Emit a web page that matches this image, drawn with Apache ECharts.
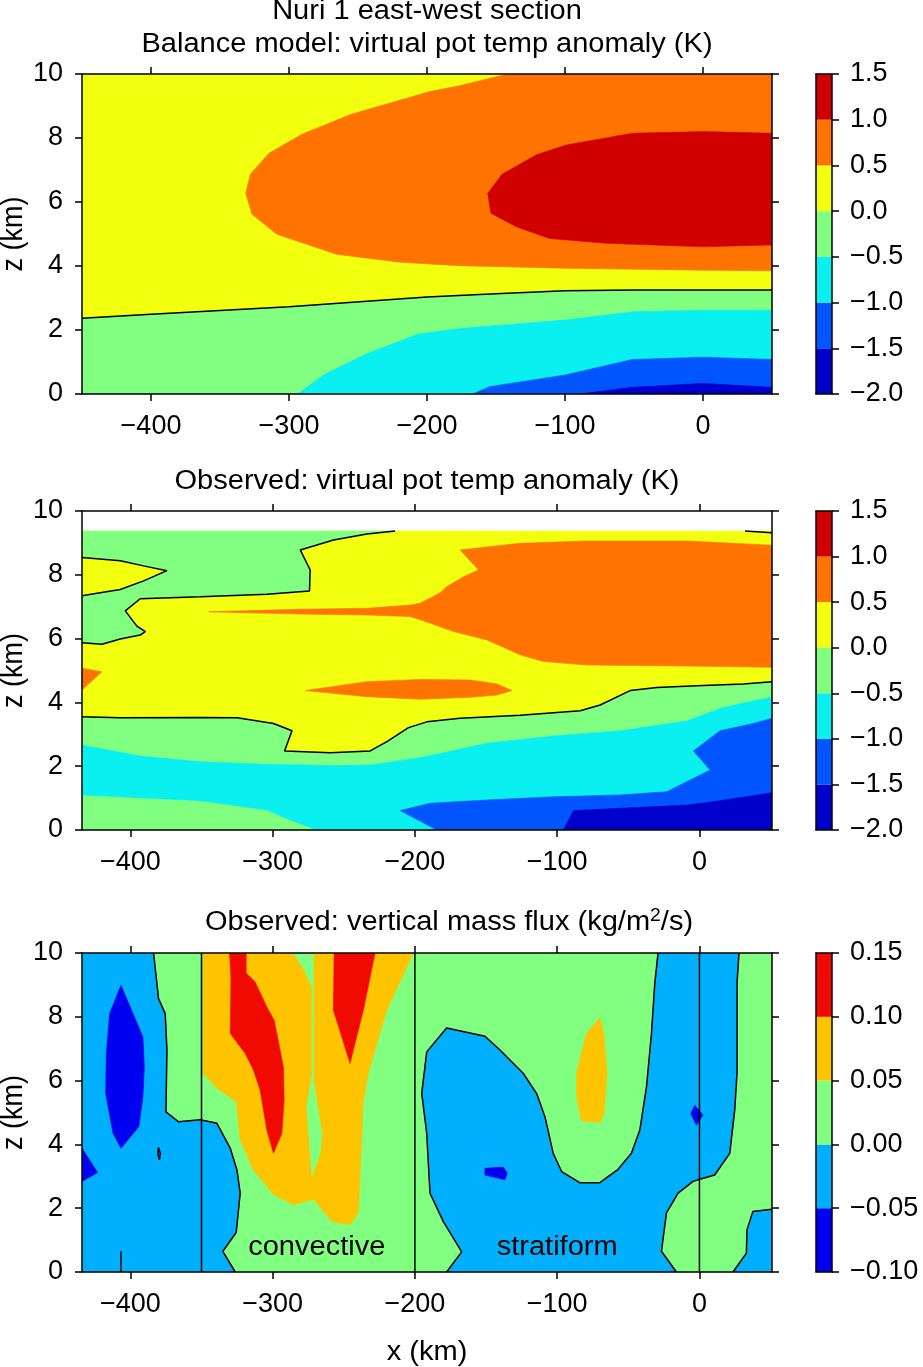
<!DOCTYPE html>
<html>
<head>
<meta charset="utf-8">
<script src="https://cdn.jsdelivr.net/npm/echarts@6/dist/echarts.min.js"></script>
<style>
html,body{margin:0;padding:0;background:#fff;}
#chart{width:923px;height:1367px;}
</style>
</head>
<body>
<div id="chart"></div>
<script>
// ---------------- DATA (x km, z km) ----------------
// Panel 1: balance model, contour boundaries of virtual pot temp anomaly (K)
const balXRange = [-450, 50];
const bal_zero = [[-450,2.37],[-400,2.49],[-300,2.73],[-200,3.03],[-150,3.13],[-100,3.23],[-50,3.25],[0,3.25],[50,3.25]];
const bal_p05 = [[-141.7,10],[-176.5,9.63],[-198,9.45],[-255,8.74],[-291,8.11],[-314.5,7.52],[-328,6.87],[-331.4,6.27],[-326.8,5.62],[-308.8,4.99],[-265.8,4.37],[-219.9,4.12],[-176.5,4.01],[-100,3.93],[0,3.87],[50,3.85],[50,10]];
const bal_p10 = [[50,8.15],[0,8.2],[-51,8.15],[-99.3,7.78],[-121,7.47],[-145.6,6.87],[-156,6.27],[-153.7,5.65],[-135.4,5.23],[-111.3,4.86],[-70.2,4.71],[0,4.60],[50,4.66]];
const bal_m05 = [[-293.8,0],[-274.4,0.61],[-244.6,1.24],[-206.9,1.87],[-176.5,2.05],[-100,2.31],[-51,2.57],[0,2.62],[50,2.62]];
const bal_m10 = [[-166.8,0],[-154.7,0.23],[-100,0.59],[-51,1.08],[0,1.15],[50,1.08]];
const bal_m15 = [[-89.6,0],[-51,0.21],[0,0.33],[50,0.21]];

// Panel 2: observed virtual pot temp anomaly (K)
const obsXRange = [-434, 51];
const obsTop = 9.37;
const obs_zero_low = [[-434,3.55],[-407,3.52],[-351,3.53],[-325,3.52],[-299.4,3.34],[-286.4,3.11],[-291.6,2.48],[-259.5,2.42],[-231.4,2.48],[-219.7,2.77],[-204.5,3.21],[-191.6,3.39],[-168.2,3.5],[-126,3.6],[-83.8,3.74],[-69.8,3.92],[-48.7,4.37],[-29.9,4.47],[-1.8,4.52],[31,4.58],[51,4.65]];
const obs_zero_A = [[-213.9,9.37],[-233.7,9.28],[-257.2,9.09],[-280.6,8.78],[-273.6,8.15],[-274.1,7.49],[-304,7.39],[-350.9,7.31],[-393.1,7.25],[-403.6,6.87],[-395.4,6.39],[-389.5,6.22],[-393.1,6.11],[-407.1,5.99],[-420,5.82],[-434,5.87]];
const obs_zero_B = [[-434,8.54],[-407.1,8.44],[-390.7,8.28],[-374.3,8.13],[-390.7,7.81],[-407.1,7.54],[-421.2,7.44],[-434,7.34]];
const obs_zero_C = [[32,9.37],[51,9.32]];
const obs_p05_main = [[-344.9,6.84],[-280.6,6.92],[-233.7,6.95],[-203.3,7.05],[-196.3,7.11],[-182.2,7.44],[-177.5,7.63],[-165.8,7.94],[-155.3,8.15],[-168.2,8.78],[-126,8.99],[-79.1,9.06],[-8.9,9.06],[51,8.93],[51,5.10],[-8.9,5.14],[-79.1,5.17],[-109.6,5.28],[-126,5.49],[-149.4,5.96],[-172.9,6.22],[-182.2,6.37],[-191.6,6.52],[-203.3,6.69],[-233.7,6.74],[-280.6,6.77]];
const obs_p05_mid = [[-277.1,4.37],[-233.7,4.65],[-196.3,4.72],[-161.1,4.70],[-142.4,4.58],[-131.8,4.37],[-142.4,4.23],[-161.1,4.16],[-196.3,4.10],[-233.7,4.18]];
const obs_p05_left = [[-434,5.07],[-420,4.96],[-434,4.39]];
const obs_m05_up = [[-434,2.66],[-393,2.32],[-351,2.14],[-304,2.06],[-257.2,2.02],[-231.4,2.04],[-198.6,2.25],[-182.2,2.4],[-149.4,2.72],[-102.6,2.95],[-55.7,3.11],[-8.9,3.42],[14.5,3.81],[37.9,4.05],[51,4.16]];
const obs_m05_low = [[-434,1.10],[-397.8,1.02],[-351,0.92],[-304,0.63],[-287.6,0.31],[-268.9,0]];
const obs_m10 = [[-184.5,0],[-210.3,0.61],[-189.2,0.84],[-149.4,0.94],[-102.6,1.04],[-55.7,1.10],[-22.9,1.20],[7.5,1.88],[-4.2,2.48],[14.5,3.11],[37.9,3.34],[51,3.50]];
const obs_m15 = [[-95.6,0],[-88.5,0.61],[-55.7,0.68],[-8.9,0.78],[14.5,0.92],[51,1.17]];

// Panel 3: observed vertical mass flux (kg/m2/s)
const fluxXRange = [-434, 51];
const flux_neg_A = [[-383.7,10],[-380.2,8.57],[-375.5,8.10],[-374.3,6.96],[-375,5.02],[-366.2,4.71],[-350.9,4.77],[-339.2,4.66],[-329.8,3.88],[-325.1,3.20],[-322.8,2.47],[-325.6,1.24],[-335,0.65],[-326.3,0]];
const flux_neg_B = [[-177.7,0],[-167.1,0.63],[-180,1.58],[-189.4,2.47],[-191.7,4.35],[-195.2,5.60],[-191.7,6.90],[-177.7,7.65],[-150.8,7.39],[-140.2,6.96],[-123.9,6.23],[-114.5,5.60],[-108.6,4.87],[-102.8,3.72],[-96.9,3.15],[-84.1,2.80],[-70,2.80],[-57.2,3.22],[-47.8,3.72],[-41.9,4.45],[-37.2,5.81],[-33.7,7.48],[-31.4,9.04],[-29.1,10]];
const flux_neg_C = [[27.8,10],[26.4,9.04],[26.4,6.23],[24.8,5.08],[21.3,3.72],[10.7,3.04],[0.2,2.91],[-4.5,2.84],[-15,2.47],[-23.2,1.85],[-26.7,0.65],[-16.2,0]];
const flux_neg_D = [[23.6,0],[33,0.59],[33.4,1.32],[37.6,1.90],[51,1.97]];
const flux_neg_spot = [[-380.3,3.9],[-378.9,3.72],[-379.6,3.52],[-380.6,3.7],[-380.3,3.9]];
const flux_zero_stub = [[-406.6,0],[-406.6,0.65]];
const flux_m05_A = [[-406.6,8.99],[-395.4,7.81],[-391.2,7.37],[-390.2,6.43],[-391.2,5.49],[-394,4.56],[-406.6,3.88],[-412.2,4.35],[-417.4,5.60],[-416.9,6.85],[-414.6,8.10]];
const flux_m05_B = [[-434,3.88],[-423,3.12],[-434,2.84]];
const flux_m05_C = [[-150.8,3.25],[-137.9,3.29],[-135.1,3.10],[-136.7,2.89],[-150.8,3.04]];
const flux_m05_D = [[-3.3,5.23],[2.5,4.92],[-2.1,4.60],[-6.1,4.97]];
const flux_p05_A = [[-349,10],[-349,6.23],[-339.2,5.76],[-325.6,5.34],[-322.8,4.14],[-313.5,3.20],[-299.4,2.42],[-285.4,2.11],[-271.3,2.28],[-258.4,1.58],[-245.6,1.48],[-239.7,1.85],[-238.5,3.10],[-236.2,5.39],[-232.7,6.23],[-219.8,8.21],[-201.1,10]];
const flux_gap = [[-285.4,10],[-277.2,9.41],[-272.3,8.94],[-272.3,6.2],[-276,5.18],[-272.4,2.99],[-266.6,3.72],[-265.4,4.35],[-271.3,6.02],[-271.3,10]];
const flux_p05_B = [[-70,7.98],[-67.2,7.48],[-64.9,6.23],[-67.2,4.92],[-70,4.69],[-82.9,4.74],[-86.4,5.49],[-86.4,6.23],[-79.4,7.48]];
const flux_p10_A = [[-330.3,10],[-318.6,10],[-318.6,9.37],[-312.3,9.09],[-304.1,8.31],[-298.9,7.89],[-292.4,6.43],[-291.9,5.39],[-293.5,4.35],[-299.4,3.72],[-304.1,4.45],[-308.8,5.70],[-313.5,6.33],[-319.3,6.85],[-329.8,7.48],[-329.3,9.25]];
const flux_p10_B = [[-256.8,10],[-228,10],[-236.2,8.21],[-245.6,6.54],[-257.3,8.21]];
const regionBounds = [-350, -200, 0];
const regionLabels = [['convective', -269, 0.76], ['stratiform', -100, 0.76]];

// Tick labels / colour levels
const xTicks = [-400, -300, -200, -100, 0];
const tempLevels = [-2.0, -1.5, -1.0, -0.5, 0.0, 0.5, 1.0, 1.5];
const tempColors = ['#0000CC', '#0055FF', '#0AEFEF', '#80FF80', '#F2FF0E', '#FF7300', '#D00000'];
const fluxLevels = [-0.10, -0.05, 0.00, 0.05, 0.10, 0.15];
const fluxColors = ['#0000F0', '#00B0FF', '#80FF80', '#FFC400', '#F00A00'];

// ---------------- CHART ----------------
const FONT = '"Liberation Sans", Arial, Helvetica, sans-serif';
const FS = 27;
const SX = 1.075; // horizontal stretch of free text
const chart = echarts.init(document.getElementById('chart'), null, {renderer: 'canvas'});

const mainGrids = [
  {left: 82, top: 74, width: 690, height: 320},
  {left: 82, top: 511, width: 690, height: 319},
  {left: 82, top: 953, width: 690, height: 319}
];
const cbGrids = mainGrids.map(g => ({left: 816, top: g.top, width: 16, height: g.height}));
const grids = mainGrids.concat(cbGrids);
const xRanges = [balXRange, obsXRange, fluxXRange];

const lineAx = {show: true, onZero: false, lineStyle: {color: '#000', width: 1.5}};
const tickAx = {show: true, inside: false, length: 7, lineStyle: {color: '#000', width: 1.5}};
const xAxes = [], yAxes = [];
const minus = s => s.replace('-', '\u2212');
for (let g = 0; g < 3; g++) {
  xAxes.push({gridIndex: g, type: 'value', position: 'bottom', min: xRanges[g][0], max: xRanges[g][1], z: 50,
    axisLine: lineAx, splitLine: {show: false},
    axisTick: Object.assign({customValues: xTicks}, tickAx),
    axisLabel: {show: true, customValues: xTicks, margin: 19, color: '#000', fontFamily: FONT, fontSize: FS, formatter: v => minus(String(v))}});
  xAxes.push({gridIndex: g, type: 'value', position: 'top', min: xRanges[g][0], max: xRanges[g][1], z: 50,
    axisLine: lineAx, splitLine: {show: false},
    axisTick: Object.assign({customValues: xTicks}, tickAx),
    axisLabel: {show: false}});
  yAxes.push({gridIndex: g, type: 'value', position: 'left', min: 0, max: 10, interval: 2, z: 50,
    axisLine: lineAx, splitLine: {show: false}, axisTick: tickAx,
    axisLabel: {show: true, margin: 19, color: '#000', fontFamily: FONT, fontSize: FS}});
  yAxes.push({gridIndex: g, type: 'value', position: 'right', min: 0, max: 10, interval: 2, z: 50,
    axisLine: lineAx, splitLine: {show: false}, axisTick: tickAx,
    axisLabel: {show: false}});
}
const cbLevels = [tempLevels, tempLevels, fluxLevels];
const cbColors = [tempColors, tempColors, fluxColors];
const cbDigits = [1, 1, 2];
for (let c = 0; c < 3; c++) {
  const g = 3 + c;
  const lv = cbLevels[c];
  xAxes.push({gridIndex: g, type: 'value', position: 'bottom', min: 0, max: 1, z: 50,
    axisLine: lineAx, axisTick: {show: false}, axisLabel: {show: false}, splitLine: {show: false}});
  xAxes.push({gridIndex: g, type: 'value', position: 'top', min: 0, max: 1, z: 50,
    axisLine: lineAx, axisTick: {show: false}, axisLabel: {show: false}, splitLine: {show: false}});
  yAxes.push({gridIndex: g, type: 'value', position: 'left', min: lv[0], max: lv[lv.length - 1], z: 50,
    axisLine: lineAx, axisTick: {show: false}, axisLabel: {show: false}, splitLine: {show: false}});
  yAxes.push({gridIndex: g, type: 'value', position: 'right', min: lv[0], max: lv[lv.length - 1], interval: lv[1] - lv[0], z: 50,
    axisLine: lineAx, splitLine: {show: false}, axisTick: tickAx,
    axisLabel: {show: true, margin: 18, color: '#000', fontFamily: FONT, fontSize: FS,
      formatter: v => minus(Number(v).toFixed(cbDigits[c]))}});
}

const series = [];
let zc = 2;
function poly(g, pts, color) {
  const z = zc; zc += 0.01;
  series.push({type: 'custom', coordinateSystem: 'cartesian2d', xAxisIndex: 2 * g, yAxisIndex: 2 * g,
    clip: true, silent: true, animation: false, z: 2, data: pts,
    renderItem: (params, api) => {
      if (params.dataIndex !== 0) return null;
      return {type: 'polygon', z2: Math.round(z * 100), shape: {points: pts.map(p => api.coord(p))},
        style: {fill: color, stroke: color, lineWidth: 0.6}};
    }});
}
function line(g, pts) {
  series.push({type: 'line', xAxisIndex: 2 * g, yAxisIndex: 2 * g, data: pts, symbol: 'none', showSymbol: false,
    silent: true, animation: false, z: 40, clip: true,
    lineStyle: {color: '#000', width: 1.5}});
}
const rect = (x0, x1, z0, z1) => [[x0, z0], [x1, z0], [x1, z1], [x0, z1]];
const [C_DB, C_B, C_C, C_G, C_Y, C_O, C_R] = tempColors;

// Panel 1
poly(0, rect(balXRange[0], balXRange[1], 0, 10), C_Y);
poly(0, bal_p05, C_O);
poly(0, bal_p10, C_R);
poly(0, bal_zero.concat([[balXRange[1], 0], [balXRange[0], 0]]), C_G);
poly(0, bal_m05.concat([[balXRange[1], 0]]), C_C);
poly(0, bal_m10.concat([[balXRange[1], 0]]), C_B);
poly(0, bal_m15.concat([[balXRange[1], 0]]), C_DB);
line(0, bal_zero);

// Panel 2
poly(1, rect(obsXRange[0], obsXRange[1], 0, obsTop), C_Y);
poly(1, obs_zero_A.concat([[obsXRange[0], obsTop]]), C_G);
poly(1, obs_zero_B, C_Y);
poly(1, obs_p05_main, C_O);
poly(1, obs_p05_mid, C_O);
poly(1, obs_p05_left, C_O);
poly(1, obs_zero_low.concat([[obsXRange[1], 0], [obsXRange[0], 0]]), C_G);
poly(1, obs_m05_up.concat([[obsXRange[1], 0]], obs_m05_low.slice().reverse()), C_C);
poly(1, obs_m10.concat([[obsXRange[1], 0]]), C_B);
poly(1, obs_m15.concat([[obsXRange[1], 0]]), C_DB);
line(1, obs_zero_low);
line(1, obs_zero_A);
line(1, obs_zero_B);
line(1, obs_zero_C);

// Panel 3
const [F_DB, F_LB, F_G, F_O, F_R] = fluxColors;
poly(2, rect(fluxXRange[0], fluxXRange[1], 0, 10), F_G);
poly(2, flux_neg_A.concat([[fluxXRange[0], 0], [fluxXRange[0], 10]]), F_LB);
poly(2, flux_neg_B.concat(flux_neg_C), F_LB);
poly(2, flux_neg_D.concat([[fluxXRange[1], 0]]), F_LB);
poly(2, flux_m05_A, F_DB);
poly(2, flux_m05_B, F_DB);
poly(2, flux_m05_C, F_DB);
poly(2, flux_m05_D, F_DB);
poly(2, flux_p05_A, F_O);
poly(2, flux_gap, F_G);
poly(2, flux_p05_B, F_O);
poly(2, flux_p10_A, F_R);
poly(2, flux_p10_B, F_R);
line(2, flux_neg_A);
line(2, flux_neg_B);
line(2, flux_neg_C);
line(2, flux_neg_D);
line(2, flux_neg_spot);
line(2, flux_zero_stub);
regionBounds.forEach(x => line(2, [[x, 0], [x, 10]]));
series.push({type: 'custom', coordinateSystem: 'cartesian2d', xAxisIndex: 4, yAxisIndex: 4, silent: true, animation: false, z: 45,
  data: regionLabels.map(r => [r[1], r[2]]),
  renderItem: (params, api) => {
    const p = api.coord([api.value(0), api.value(1)]);
    return {type: 'text', x: p[0], y: p[1], scaleX: SX,
      style: {text: regionLabels[params.dataIndex][0], fill: '#000', font: FS + 'px ' + FONT, textAlign: 'center', textVerticalAlign: 'middle'}};
  }});

// Colorbars
for (let c = 0; c < 3; c++) {
  const lv = cbLevels[c], cols = cbColors[c];
  series.push({type: 'custom', coordinateSystem: 'cartesian2d', xAxisIndex: 6 + 2 * c, yAxisIndex: 6 + 2 * c,
    silent: true, animation: false, z: 2,
    data: lv.slice(0, -1).map((v, i) => [0.5, v, lv[i + 1], i]),
    renderItem: (params, api) => {
      const lo = api.value(1), hi = api.value(2), i = api.value(3);
      const p0 = api.coord([0, hi]), p1 = api.coord([1, lo]);
      return {type: 'rect', shape: {x: p0[0], y: p0[1], width: p1[0] - p0[0], height: p1[1] - p0[1]},
        style: {fill: cols[i]}};
    }});
}

const txt = (x, y, text, extra) => Object.assign({type: 'text', x, y, silent: true, scaleX: SX,
  style: {text, fill: '#000', font: FS + 'px ' + FONT, textAlign: 'center', textVerticalAlign: 'middle'}}, extra || {});
const graphics = [
  txt(427, 12, 'Nuri 1 east-west section'),
  txt(427, 45, 'Balance model: virtual pot temp anomaly (K)'),
  txt(427, 482, 'Observed: virtual pot temp anomaly (K)'),
  {type: 'text', x: 449, y: 923, silent: true, scaleX: SX,
    style: {text: 'Observed: vertical mass flux (kg/m{sup|2}/s)', fill: '#000', font: FS + 'px ' + FONT,
      textAlign: 'center', textVerticalAlign: 'middle', lineHeight: 32,
      rich: {sup: {fontSize: 18, fontFamily: FONT, lineHeight: 18, verticalAlign: 'top', fill: '#000'}}}},
  txt(427, 1353, 'x (km)')
];
mainGrids.forEach(g => graphics.push(txt(14, g.top + g.height / 2, 'z (km)', {rotation: Math.PI / 2, scaleX: 1, scaleY: SX})));

chart.setOption({
  animation: false,
  backgroundColor: '#fff',
  grid: grids,
  xAxis: xAxes,
  yAxis: yAxes,
  series: series,
  graphic: graphics
});
</script>
</body>
</html>
